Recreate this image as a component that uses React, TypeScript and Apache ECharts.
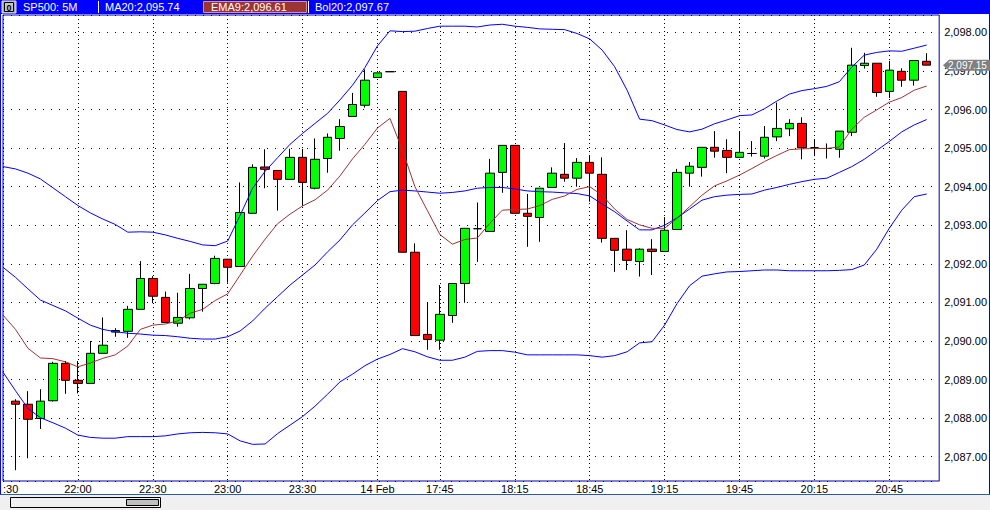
import React, { useEffect, useRef } from "react";
import * as echarts from "echarts";

// ---- categories (5-minute bars) ----
const times: string[] = [
  "21:30", "21:35", "21:40", "21:45", "21:50", "21:55", "22:00", "22:05", "22:10", "22:15",
  "22:20", "22:25", "22:30", "22:35", "22:40", "22:45", "22:50", "22:55", "23:00", "23:05",
  "23:10", "23:15", "23:20", "23:25", "23:30", "23:35", "23:40", "23:45", "23:50", "23:55",
  "14 Feb", "17:25", "17:30", "17:35", "17:40", "17:45", "17:50", "17:55", "18:00", "18:05",
  "18:10", "18:15", "18:20", "18:25", "18:30", "18:35", "18:40", "18:45", "18:50", "18:55",
  "19:00", "19:05", "19:10", "19:15", "19:20", "19:25", "19:30", "19:35", "19:40", "19:45",
  "19:50", "19:55", "20:00", "20:05", "20:10", "20:15", "20:20", "20:25", "20:30", "20:35",
  "20:40", "20:45", "20:50", "20:55", "21:00", "21:05",
];
const tickIndices: number[] = [0, 6, 12, 18, 24, 30, 35, 41, 47, 53, 59, 65, 71];

// ---- OHLC ----
const opens: (number | null)[] = [
  null, 2088.44, 2088.36, 2087.99, 2088.45, 2089.42, 2088.98, 2088.90, 2089.68, 2090.23,
  2090.25, 2090.82, 2091.62, 2091.13, 2090.46, 2090.60, 2091.36, 2091.49, 2092.12, 2091.93,
  2093.31, 2094.51, 2094.42, 2094.19, 2094.76, 2093.96, 2094.73, 2095.25, 2095.82, 2096.11,
  2096.83, 2096.98, 2096.47, 2092.30, 2090.17, 2090.02, 2090.66, 2091.49, 2092.91, 2092.84,
  2094.37, 2095.07, 2093.31, 2093.20, 2093.98, 2094.32, 2094.22, 2094.63, 2094.32, 2092.66,
  2092.38, 2092.06, 2092.38, 2092.32, 2092.89, 2094.35, 2094.50, 2095.02, 2094.94, 2094.76,
  2094.86, 2094.79, 2095.29, 2095.50, 2095.64, 2095.01, 2094.99, 2094.97, 2095.41, 2097.14,
  2097.20, 2096.47, 2096.99, 2096.76, 2097.25,
];
const closes: (number | null)[] = [
  null, 2088.36, 2087.97, 2088.44, 2089.42, 2088.98, 2088.90, 2089.68, 2089.89, 2090.27,
  2090.82, 2091.62, 2091.16, 2090.48, 2090.61, 2091.36, 2091.47, 2092.14, 2091.91, 2093.33,
  2094.50, 2094.45, 2094.19, 2094.76, 2094.11, 2094.71, 2095.28, 2095.56, 2096.13, 2096.76,
  2096.95, 2096.98, 2092.30, 2090.14, 2090.04, 2090.69, 2091.49, 2092.92, 2092.91, 2094.35,
  2095.07, 2093.31, 2093.23, 2093.96, 2094.35, 2094.22, 2094.63, 2094.35, 2092.66, 2092.35,
  2092.09, 2092.38, 2092.32, 2092.87, 2094.37, 2094.53, 2095.02, 2094.92, 2094.76, 2094.89,
  2094.86, 2095.28, 2095.51, 2095.64, 2095.01, 2095.01, 2094.99, 2095.44, 2097.15, 2097.20,
  2096.44, 2097.02, 2096.76, 2097.27, 2097.15,
];
const lows: (number | null)[] = [
  null, 2086.65, 2086.96, 2087.72, 2088.43, 2088.63, 2088.64, 2088.90, 2089.68, 2090.11,
  2090.08, 2090.82, 2090.98, 2090.48, 2090.37, 2090.56, 2090.76, 2091.47, 2091.51, 2091.93,
  2093.31, 2093.96, 2093.38, 2094.19, 2093.50, 2093.93, 2094.36, 2094.93, 2095.82, 2096.05,
  2096.83, 2096.98, 2092.30, 2090.14, 2089.77, 2089.77, 2090.47, 2090.99, 2092.05, 2092.84,
  2093.84, 2093.31, 2092.44, 2092.57, 2093.98, 2094.13, 2094.00, 2093.61, 2092.55, 2091.79,
  2091.84, 2091.67, 2091.71, 2092.32, 2092.89, 2094.00, 2094.26, 2094.75, 2094.35, 2094.76,
  2094.78, 2094.73, 2095.18, 2095.31, 2094.71, 2094.79, 2094.73, 2094.75, 2095.31, 2097.06,
  2096.33, 2096.30, 2096.59, 2096.62, 2097.15,
];
const highs: (number | null)[] = [
  null, 2088.49, 2088.70, 2088.75, 2089.46, 2089.48, 2089.48, 2090.00, 2090.61, 2090.33,
  2090.91, 2092.07, 2091.68, 2091.28, 2091.25, 2091.74, 2091.47, 2092.21, 2092.12, 2094.11,
  2094.58, 2094.97, 2094.42, 2094.98, 2094.98, 2095.25, 2095.38, 2095.75, 2096.43, 2097.04,
  2096.95, 2096.98, 2096.47, 2092.53, 2091.01, 2091.45, 2091.49, 2092.93, 2093.59, 2094.72,
  2095.07, 2095.07, 2093.81, 2093.96, 2094.50, 2095.13, 2094.74, 2094.81, 2094.76, 2092.66,
  2092.87, 2092.40, 2092.64, 2093.21, 2094.46, 2094.64, 2095.02, 2095.44, 2095.23, 2095.44,
  2095.18, 2095.57, 2096.18, 2095.75, 2095.80, 2095.21, 2095.12, 2095.44, 2097.60, 2097.47,
  2097.20, 2097.26, 2097.07, 2097.27, 2097.46,
];

// ---- indicators ----
const upperBand: number[] = [
  2094.52, 2094.46, 2094.35, 2094.20, 2093.97, 2093.74, 2093.51, 2093.32, 2093.16, 2093.02,
  2092.82, 2092.83, 2092.82, 2092.75, 2092.66, 2092.58, 2092.49, 2092.47, 2092.59, 2093.26,
  2093.96, 2094.40, 2094.75, 2095.10, 2095.38, 2095.64, 2095.90, 2096.25, 2096.63, 2097.09,
  2097.65, 2098.04, 2098.02, 2098.03, 2098.10, 2098.16, 2098.16, 2098.16, 2098.14, 2098.19,
  2098.21, 2098.16, 2098.13, 2098.09, 2098.08, 2098.07, 2097.97, 2097.83, 2097.54, 2097.11,
  2096.50, 2095.75, 2095.71, 2095.60, 2095.48, 2095.42, 2095.49, 2095.63, 2095.73, 2095.84,
  2095.86, 2096.02, 2096.22, 2096.40, 2096.49, 2096.54, 2096.60, 2096.72, 2097.10, 2097.41,
  2097.48, 2097.52, 2097.51, 2097.59, 2097.67,
];
const middleBand: number[] = [
  2091.91, 2091.65, 2091.35, 2091.06, 2090.92, 2090.78, 2090.59, 2090.41, 2090.30, 2090.24,
  2090.20, 2090.18, 2090.15, 2090.14, 2090.11, 2090.07, 2090.05, 2090.05, 2090.11, 2090.26,
  2090.52, 2090.85, 2091.15, 2091.45, 2091.71, 2091.97, 2092.31, 2092.62, 2093.01, 2093.32,
  2093.64, 2093.87, 2093.91, 2093.89, 2093.86, 2093.83, 2093.85, 2093.89, 2093.96, 2093.98,
  2093.98, 2093.94, 2093.89, 2093.87, 2093.86, 2093.84, 2093.82, 2093.76, 2093.55, 2093.35,
  2093.11, 2092.88, 2092.88, 2093.00, 2093.19, 2093.42, 2093.65, 2093.74, 2093.78, 2093.80,
  2093.81, 2093.91, 2093.98, 2094.06, 2094.13, 2094.19, 2094.22, 2094.37, 2094.52, 2094.71,
  2094.94, 2095.17, 2095.42, 2095.60, 2095.74,
];
const lowerBand: number[] = [
  2089.19, 2088.71, 2088.25, 2088.01, 2087.88, 2087.74, 2087.56, 2087.50, 2087.48, 2087.48,
  2087.52, 2087.52, 2087.52, 2087.54, 2087.59, 2087.62, 2087.63, 2087.62, 2087.59, 2087.41,
  2087.32, 2087.33, 2087.60, 2087.82, 2088.04, 2088.31, 2088.62, 2088.94, 2089.14, 2089.36,
  2089.53, 2089.65, 2089.80, 2089.72, 2089.59, 2089.50, 2089.50, 2089.58, 2089.73, 2089.75,
  2089.75, 2089.71, 2089.64, 2089.64, 2089.64, 2089.64, 2089.64, 2089.62, 2089.58, 2089.62,
  2089.72, 2089.95, 2089.98, 2090.41, 2090.97, 2091.43, 2091.68, 2091.74, 2091.79, 2091.80,
  2091.82, 2091.84, 2091.84, 2091.82, 2091.82, 2091.82, 2091.82, 2091.83, 2091.85, 2091.97,
  2092.38, 2092.92, 2093.39, 2093.74, 2093.81,
];
const ema9: number[] = [
  2090.67, 2090.30, 2089.81, 2089.56, 2089.54, 2089.46, 2089.33, 2089.43, 2089.55, 2089.64,
  2089.87, 2090.30, 2090.41, 2090.44, 2090.52, 2090.72, 2090.82, 2091.05, 2091.22, 2091.71,
  2092.20, 2092.64, 2093.04, 2093.29, 2093.50, 2093.66, 2093.91, 2094.28, 2094.72, 2095.10,
  2095.52, 2095.77, 2094.95, 2094.00, 2093.38, 2092.76, 2092.51, 2092.63, 2092.67, 2093.05,
  2093.39, 2093.41, 2093.42, 2093.51, 2093.67, 2093.76, 2093.93, 2094.00, 2093.78, 2093.42,
  2093.15, 2093.01, 2092.92, 2092.92, 2093.18, 2093.48, 2093.78, 2094.02, 2094.15, 2094.30,
  2094.47, 2094.65, 2094.81, 2094.96, 2094.98, 2094.99, 2094.99, 2095.03, 2095.49, 2095.80,
  2095.99, 2096.19, 2096.31, 2096.50, 2096.61,
];

const symbolName = "SP500: 5M";
const FONT = '"Liberation Sans", Arial, sans-serif';
const fmt = (v: number) =>
  v.toLocaleString("en-US", { minimumFractionDigits: 2, maximumFractionDigits: 2 });

export default function App() {
  const ref = useRef<HTMLDivElement>(null);

  useEffect(() => {
    const el = ref.current;
    if (!el) return;
    const chart = echarts.init(el, null, { renderer: "svg" });

    const candleData = opens.map((o, i) =>
      o == null ? ["-", "-", "-", "-"] : [o, closes[i], lows[i], highs[i]]
    );
    const showTick = (i: number) => tickIndices.indexOf(i) >= 0;
    const lastIdx = closes.length - 1;

    const txt = (id: string, x: number, text: string) => ({
      type: "text",
      id,
      x,
      y: 7,
      z: 20,
      style: {
        text,
        fill: "#ffffff",
        font: `11px ${FONT}`,
        verticalAlign: "middle",
        textAlign: "left",
      },
    });

    const baseGraphic: any[] = [
      { type: "rect", id: "topbar", shape: { x: 0, y: 0, width: 990, height: 14 }, style: { fill: "#0000ff" }, z: 10 },
      { type: "rect", id: "iconOuter", shape: { x: 2, y: 1, width: 14, height: 12 }, style: { fill: "#a8a8a8", stroke: "#e0e0e0", lineWidth: 1 }, z: 15 },
      { type: "rect", id: "iconInner", shape: { x: 4.5, y: 2.5, width: 9, height: 9 }, style: { fill: "#c8c8c8", stroke: "#000000", lineWidth: 1 }, z: 16 },
      {
        type: "text", id: "iconTxt", x: 9, y: 7.5, z: 17,
        style: { text: "0", fill: "#000", font: `bold 9px ${FONT}`, textAlign: "center", verticalAlign: "middle" },
      },
      txt("sym", 23, symbolName),
      { type: "rect", id: "sep1", shape: { x: 98, y: 1, width: 1, height: 12 }, style: { fill: "#ffffff" }, z: 15 },
      txt("ma", 105, "MA20:" + fmt(middleBand[lastIdx])),
      { type: "rect", id: "emaBox", shape: { x: 203.5, y: 1.5, width: 103, height: 11 }, style: { fill: "#9c3434", stroke: "#e09090", lineWidth: 1 }, z: 15 },
      txt("ema", 211, "EMA9:" + fmt(ema9[lastIdx])),
      { type: "rect", id: "sep2", shape: { x: 308, y: 1, width: 1, height: 12 }, style: { fill: "#ffffff" }, z: 15 },
      txt("bol", 315, "Bol20:" + fmt(upperBand[lastIdx])),
      { type: "rect", id: "leftEdge", shape: { x: 0, y: 14, width: 1, height: 481 }, style: { fill: "#0000ff" }, z: 10 },
      { type: "rect", id: "rightEdge", shape: { x: 989, y: 14, width: 1, height: 481 }, style: { fill: "#0000ff" }, z: 10 },
      { type: "rect", id: "botLine", shape: { x: 0, y: 494, width: 990, height: 1 }, style: { fill: "#2a5aa8" }, z: 10 },
      { type: "rect", id: "botArea", shape: { x: 0, y: 495, width: 990, height: 15 }, style: { fill: "#f0f0f0" }, z: 10 },
      { type: "rect", id: "scroll", shape: { x: 10.5, y: 497.5, width: 150, height: 10 }, style: { fill: "#f0f0f0", stroke: "#000000", lineWidth: 1 }, z: 11 },
      { type: "rect", id: "thumb", shape: { x: 126.5, y: 499.5, width: 32, height: 6 }, style: { fill: "#c0c0c0", stroke: "#000000", lineWidth: 1 }, z: 12 },
    ];

    const lineSeries = (name: string, data: number[], color: string) => ({
      name,
      type: "line",
      data,
      symbol: "none",
      silent: true,
      z: 3,
      lineStyle: { color, width: 1 },
    });

    chart.setOption({
      animation: false,
      backgroundColor: "#ffffff",
      grid: {
        left: 1, right: 48, top: 15, bottom: 29,
        show: true, borderColor: "#0000b4", borderWidth: 1, backgroundColor: "#ffffff",
      },
      xAxis: {
        type: "category",
        data: times,
        boundaryGap: false,
        axisLine: { show: false },
        axisTick: { show: false },
        axisLabel: {
          interval: (i: number) => showTick(i),
          formatter: (v: string, i: number) => (i === 0 ? v.slice(2) : v),
          alignMinLabel: "left",
          color: "#000",
          fontFamily: FONT,
          fontSize: 11,
          margin: 2,
        },
        splitLine: {
          show: true,
          interval: (i: number) => showTick(i),
          lineStyle: { color: "#000", width: 1, type: [1, 3] },
        },
      },
      yAxis: {
        type: "value",
        position: "right",
        min: 2086.37,
        max: 2098.45,
        splitNumber: 12,
        axisLine: { show: false },
        axisTick: { show: false },
        axisLabel: {
          formatter: (v: number) => fmt(v),
          color: "#000",
          fontFamily: FONT,
          fontSize: 11,
          margin: 5,
          showMinLabel: false,
          showMaxLabel: false,
        },
        splitLine: { show: true, lineStyle: { color: "#000", width: 1, type: [1, 7] } },
      },
      series: [
        {
          name: "SP500",
          type: "candlestick",
          data: candleData,
          barWidth: 9,
          z: 2,
          itemStyle: {
            color: "#00ff00",
            color0: "#ff0000",
            borderColor: "#000000",
            borderColor0: "#000000",
            borderColorDoji: "#000000",
            borderWidth: 1,
          },
        },
        lineSeries("Bol20 upper", upperBand, "#0000ff"),
        lineSeries("MA20", middleBand, "#0000ff"),
        lineSeries("Bol20 lower", lowerBand, "#0000ff"),
        lineSeries("EMA9", ema9, "#9a3535"),
      ],
      graphic: baseGraphic,
    });

    const lastClose = closes[lastIdx] as number;
    const py = chart.convertToPixel({ yAxisIndex: 0 }, lastClose) as number;
    const gx = 943;
    chart.setOption({
      graphic: [
        ...baseGraphic,
        {
          type: "polygon", id: "tag", z: 20,
          shape: { points: [[gx, py], [gx + 6, py - 5.5], [990, py - 5.5], [990, py + 5.5], [gx + 6, py + 5.5]] },
          style: { fill: "#808080" },
        },
        {
          type: "text", id: "tagTxt", x: gx + 5, y: py, z: 21,
          style: { text: fmt(lastClose), fill: "#ffffff", font: `10px ${FONT}`, verticalAlign: "middle", textAlign: "left" },
        },
      ],
    });

    return () => chart.dispose();
  }, []);

  return (
    <div
      ref={ref}
      style={{ position: "fixed", left: 0, top: 0, width: 990, height: 510, background: "#ffffff" }}
    />
  );
}
